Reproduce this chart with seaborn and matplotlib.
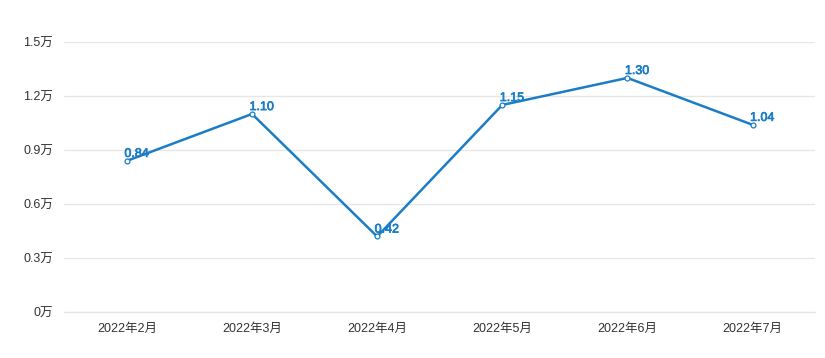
import matplotlib
matplotlib.use("Agg")
import pandas as pd
import seaborn as sns
from matplotlib import pyplot as plt
from matplotlib import patheffects as pe

# monthly values, in units of 万
months = ['2022年2月', '2022年3月', '2022年4月', '2022年5月', '2022年6月', '2022年7月']
values = [0.84, 1.10, 0.42, 1.15, 1.30, 1.04]
y_ticks = [0, 0.3, 0.6, 0.9, 1.2, 1.5]
y_labels = ['0万', '0.3万', '0.6万', '0.9万', '1.2万', '1.5万']

df = pd.DataFrame({'month': months, 'value': values})

sns.set_style("white")
plt.rcParams['font.family'] = ['Liberation Sans', 'Noto Sans CJK SC', 'DejaVu Sans']

line_color = '#1a7dc6'

fig = plt.figure(figsize=(8.25, 3.58), dpi=100)
ax = fig.add_axes([0.078, 0.128, 0.91, 0.755])

sns.lineplot(data=df, x='month', y='value', ax=ax, color=line_color, linewidth=1.8,
             marker='o', markersize=3.5, markerfacecolor='white',
             markeredgecolor=line_color, markeredgewidth=0.9, sort=False)

# value labels next to each point, slightly heavier than regular
for i, v in enumerate(values):
    ax.text(i - 0.02, v + 0.005, f'{v:.2f}', color=line_color, fontsize=9,
            ha='left', va='bottom',
            path_effects=[pe.withStroke(linewidth=0.5, foreground=line_color)])

ax.set_xlim(-0.5, len(months) - 0.5)
ax.set_ylim(0, 1.5)
ax.set_yticks(y_ticks)
ax.set_yticklabels(y_labels)
ax.set_xlabel('')
ax.set_ylabel('')
ax.grid(axis='y', color='#e6e6e6', linewidth=0.9)
ax.grid(axis='x', visible=False)
ax.axhline(0, color='#e6e6e6', linewidth=0.9, clip_on=False, zorder=0)
ax.set_axisbelow(True)
for s in ax.spines.values():
    s.set_visible(False)
ax.tick_params(axis='both', length=0, labelsize=9, labelcolor='#333333')
ax.tick_params(axis='x', pad=8)
ax.tick_params(axis='y', pad=8)

fig.savefig('out.png', dpi=100)
